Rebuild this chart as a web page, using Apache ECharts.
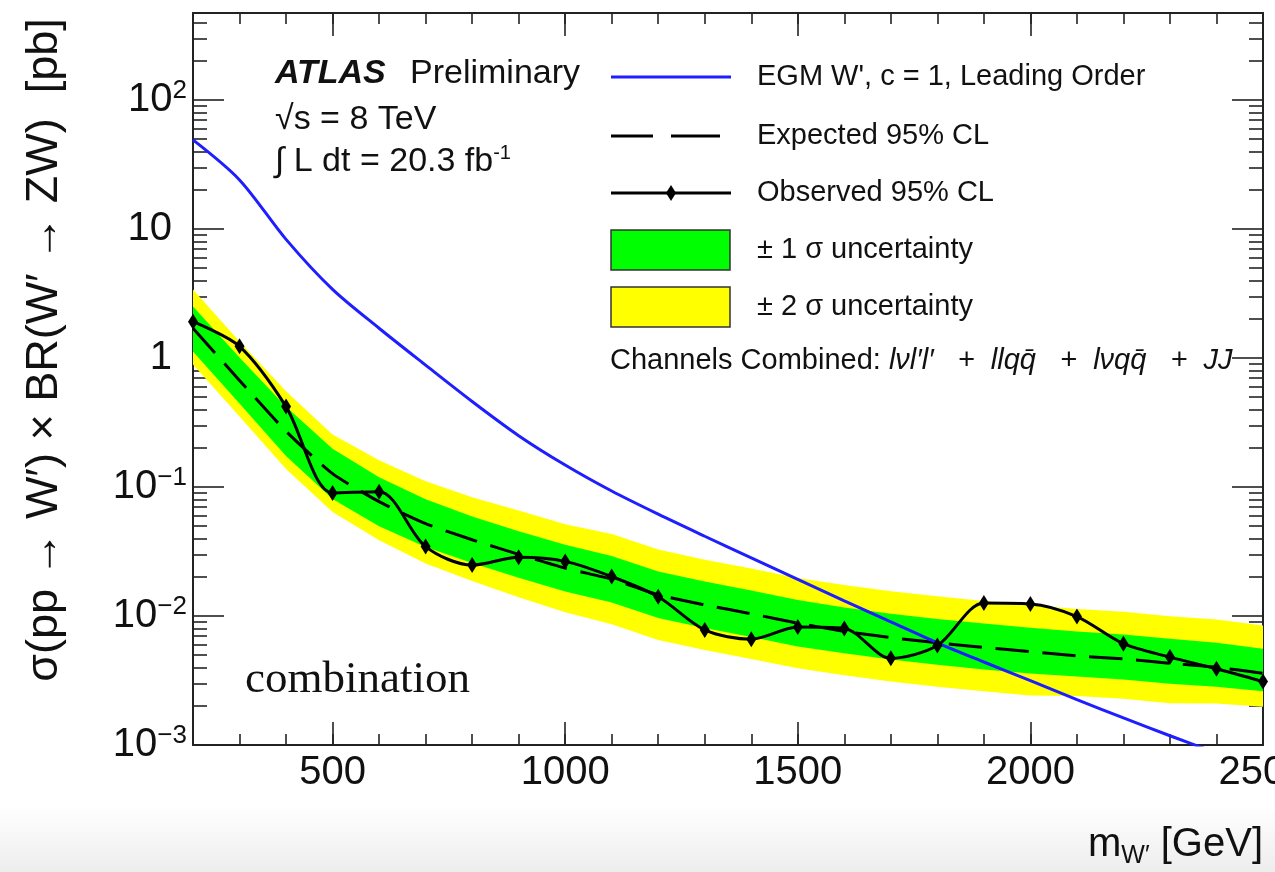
<!DOCTYPE html>
<html><head><meta charset="utf-8">
<script src="https://cdn.jsdelivr.net/npm/echarts@6/dist/echarts.min.js"></script>
<style>html,body{margin:0;padding:0;background:#fff}#c{width:1275px;height:872px}</style>
</head><body><div id="c"></div>
<script>
// ---- data ----
const masses   = [200,300,400,500,600,700,800,900,1000,1100,1200,1300,1400,1500,1600,1700,1800,1900,2000,2100,2200,2300,2400,2500];
const observed = [1.91,1.23,0.42,0.090,0.092,0.0345,0.0248,0.0285,0.0265,0.0202,0.0141,0.0078,0.0066,0.0082,0.0080,0.0047,0.0059,0.0126,0.0124,0.0099,0.0061,0.0048,0.0039,0.0031];
const expected = [1.70,0.67,0.27,0.127,0.077,0.052,0.039,0.030,0.0235,0.0193,0.0146,0.0122,0.0104,0.0088,0.0076,0.0068,0.0062,0.0057,0.0053,0.0049,0.00465,0.0043,0.0040,0.0036];
const plus1s   = [2.51,1.01,0.418,0.198,0.119,0.0805,0.0590,0.0454,0.0356,0.0292,0.0221,0.0185,0.01575,0.01332,0.01164,0.01041,0.00949,0.00873,0.00811,0.00759,0.0072,0.00666,0.0062,0.00558];
const minus1s  = [1.12,0.443,0.174,0.0807,0.0497,0.0343,0.0258,0.0198,0.0155,0.01275,0.00964,0.00806,0.00687,0.00581,0.00514,0.0046,0.00419,0.00385,0.00358,0.00339,0.00322,0.00298,0.00283,0.00261];
const plus2s   = [3.39,1.34,0.551,0.255,0.161,0.111,0.0834,0.0656,0.0514,0.0432,0.0327,0.0273,0.0233,0.0197,0.01741,0.01558,0.0142,0.01306,0.01214,0.01135,0.01077,0.00996,0.00938,0.00844];
const minus2s  = [0.89,0.352,0.138,0.0641,0.0386,0.0255,0.0187,0.0140,0.0107,0.00862,0.00652,0.00545,0.00464,0.00393,0.00347,0.00311,0.00283,0.00261,0.00242,0.0024,0.00228,0.00211,0.0021,0.00198];
const theory   = [49,24,8.3,3.4,1.7,0.88,0.46,0.25,0.148,0.093,0.0615,0.0415,0.0282,0.0192,0.0131,0.0090,0.0062,0.0044,0.00315,0.00225,0.00162,0.00118,0.00087,0.00064];

const xMajorTicks = [500,1000,1500,2000,2500];
const yMajorTicks = [0.001,0.01,0.1,1,10,100];
const yTickLabels = ['10{s|\u22123}','10{s|\u22122}','10{s|\u22121}','{p|1}','{p|10}','10{s|2}'];

// minor decade ticks (2..9 x 10^n) – axis decoration only
const yMinorTicks = [];
for (let e = -3; e <= 2; e++) for (let k = 2; k <= 9; k++) { const v = k * Math.pow(10, e); if (v < 472) yMinorTicks.push(+v.toPrecision(3)); }

const FONT = '"Liberation Sans", Arial, Helvetica, sans-serif';
const TXT = '#111';
const frame = {color:'#222', width:2};
const tickStyle = {color:'#222', width:1.6};

function pairs(ys){ return masses.map((m,i)=>[m, ys[i]]); }

function band(up, dn, color, z){
  return {
    type:'custom', xAxisIndex:0, yAxisIndex:0, z:z, silent:true,
    data:[[masses[0], expected[0]]],
    renderItem:(params, api)=>{
      const pts=[];
      for(let i=0;i<masses.length;i++) pts.push(api.coord([masses[i], up[i]]));
      for(let i=masses.length-1;i>=0;i--) pts.push(api.coord([masses[i], dn[i]]));
      return {type:'polygon', shape:{points:pts}, style:{fill:color, stroke:null}};
    }
  };
}

const xBase = {type:'value', min:200, max:2500, interval:100, splitLine:{show:false}};
const yBase = {type:'log', min:0.001, max:472, splitLine:{show:false}, minorTick:{show:false}};

const option = {
  animation:false,
  backgroundColor:'#fff',
  textStyle:{fontFamily:FONT},
  grid:{left:193, right:12, top:13, bottom:127, containLabel:false, outerBoundsMode:'none'},
  xAxis:[
    Object.assign({}, xBase, {position:'bottom',
      axisLine:{show:true, lineStyle:frame},
      axisTick:{show:true, inside:true, length:11, lineStyle:tickStyle},
      axisLabel:{show:true, customValues:xMajorTicks, fontSize:40, color:TXT, margin:8, fontFamily:FONT,
        formatter:(v)=>String(Math.round(v))}}),
    Object.assign({}, xBase, {position:'bottom',
      axisLine:{show:false},
      axisTick:{show:true, inside:true, length:23, customValues:xMajorTicks, lineStyle:tickStyle},
      axisLabel:{show:false}}),
    Object.assign({}, xBase, {position:'top',
      axisLine:{show:true, lineStyle:frame},
      axisTick:{show:true, inside:true, length:11, lineStyle:tickStyle},
      axisLabel:{show:false}}),
    Object.assign({}, xBase, {position:'top',
      axisLine:{show:false},
      axisTick:{show:true, inside:true, length:23, customValues:xMajorTicks, lineStyle:tickStyle},
      axisLabel:{show:false}})
  ],
  yAxis:[
    Object.assign({}, yBase, {position:'left',
      axisLine:{show:true, lineStyle:frame},
      axisTick:{show:true, inside:true, length:31, customValues:yMajorTicks, lineStyle:tickStyle},
      axisLabel:{show:true, customValues:yMajorTicks, margin:6, color:TXT, fontFamily:FONT,
        formatter:(v)=>{ for(let i=0;i<yMajorTicks.length;i++){ if(Math.abs(Math.log10(v)-Math.log10(yMajorTicks[i]))<1e-6) return yTickLabels[i]; } return ''; },
        rich:{
          s:{fontSize:26, verticalAlign:'top', color:TXT, fontFamily:FONT, lineHeight:44},
          p:{fontSize:40, color:TXT, fontFamily:FONT, padding:[0,15,0,0], lineHeight:44}
        },
        fontSize:40, lineHeight:44}}),
    Object.assign({}, yBase, {position:'left',
      axisLine:{show:false},
      axisTick:{show:true, inside:true, length:14, customValues:yMinorTicks, lineStyle:tickStyle},
      axisLabel:{show:false}}),
    Object.assign({}, yBase, {position:'right',
      axisLine:{show:true, lineStyle:frame},
      axisTick:{show:true, inside:true, length:31, customValues:yMajorTicks, lineStyle:tickStyle},
      axisLabel:{show:false}}),
    Object.assign({}, yBase, {position:'right',
      axisLine:{show:false},
      axisTick:{show:true, inside:true, length:14, customValues:yMinorTicks, lineStyle:tickStyle},
      axisLabel:{show:false}})
  ],
  series:[
    band(plus2s, minus2s, '#ffff00', 1),
    band(plus1s, minus1s, '#00ff00', 2),
    {type:'line', name:'Expected 95% CL', data:pairs(expected), xAxisIndex:0, yAxisIndex:0, z:3,
      showSymbol:false, symbol:'none', smooth:0.2, lineStyle:{color:'#000', width:3, type:[33,14]}},
    {type:'line', name:"EGM W'", data:pairs(theory), xAxisIndex:0, yAxisIndex:0, z:4,
      showSymbol:false, symbol:'none', smooth:0.3, lineStyle:{color:'#1e1eff', width:3}},
    {type:'line', name:'Observed 95% CL', data:pairs(observed), xAxisIndex:0, yAxisIndex:0, z:5,
      symbol:'diamond', symbolSize:[10,16], smooth:0.3,
      itemStyle:{color:'#000'}, lineStyle:{color:'#000', width:3}}
  ],
  graphic:[
    // bottom faint shading of the photographed slide
    {type:'rect', z:-10, shape:{x:0, y:805, width:1275, height:67},
      style:{fill:{type:'linear', x:0, y:0, x2:0, y2:1, colorStops:[{offset:0,color:'rgba(0,0,0,0)'},{offset:1,color:'rgba(0,0,0,0.07)'}]}}},
    // ATLAS label
    {type:'text', x:275, y:74, style:{text:'ATLAS', font:'italic bold 34px '+FONT, fill:TXT, verticalAlign:'middle'}},
    {type:'text', x:410, y:74, style:{text:'Preliminary', font:'34px '+FONT, fill:TXT, verticalAlign:'middle'}},
    {type:'text', x:275, y:120, style:{text:'\u221As = 8 TeV', font:'34px '+FONT, fill:TXT, verticalAlign:'middle'}},
    {type:'text', x:275, y:162, style:{text:'\u222B L dt = 20.3 fb{s|-1}', font:'34px '+FONT, fill:TXT, verticalAlign:'middle',
      rich:{s:{fontSize:20, verticalAlign:'top', fill:TXT, lineHeight:38, fontFamily:FONT}}}},
    // legend
    {type:'line', shape:{x1:611, y1:77, x2:731, y2:77}, style:{stroke:'#1e1eff', lineWidth:3}},
    {type:'text', x:757, y:77, style:{text:"EGM W', c = 1, Leading Order", font:'29px '+FONT, fill:TXT, verticalAlign:'middle'}},
    {type:'line', shape:{x1:611, y1:136, x2:653, y2:136}, style:{stroke:'#000', lineWidth:3}},
    {type:'line', shape:{x1:671, y1:136, x2:720, y2:136}, style:{stroke:'#000', lineWidth:3}},
    {type:'text', x:757, y:136, style:{text:'Expected 95% CL', font:'29px '+FONT, fill:TXT, verticalAlign:'middle'}},
    {type:'line', shape:{x1:611, y1:193, x2:731, y2:193}, style:{stroke:'#000', lineWidth:3}},
    {type:'polygon', shape:{points:[[671,185],[676,193],[671,201],[666,193]]}, style:{fill:'#000'}},
    {type:'text', x:757, y:193, style:{text:'Observed 95% CL', font:'29px '+FONT, fill:TXT, verticalAlign:'middle'}},
    {type:'rect', shape:{x:611, y:230, width:119, height:40}, style:{fill:'#00ff00', stroke:'#333', lineWidth:1.5}},
    {type:'text', x:757, y:250, style:{text:'\u00B1 1 \u03C3 uncertainty', font:'29px '+FONT, fill:TXT, verticalAlign:'middle'}},
    {type:'rect', shape:{x:611, y:287, width:119, height:40}, style:{fill:'#ffff00', stroke:'#333', lineWidth:1.5}},
    {type:'text', x:757, y:307, style:{text:'\u00B1 2 \u03C3 uncertainty', font:'29px '+FONT, fill:TXT, verticalAlign:'middle'}},
    {type:'text', x:610, y:361, style:{text:'Channels Combined: {i|l\u03BDl\u2032l\u2032   +  llqq\u0304   +  l\u03BDqq\u0304   +  JJ}', font:'29px '+FONT, fill:TXT, verticalAlign:'middle',
      rich:{i:{fontStyle:'italic', fontSize:29, fontFamily:FONT, fill:TXT}}}},
    // overlay word
    {type:'text', x:245, y:680, style:{text:'combination', font:'45px "Liberation Serif", "Times New Roman", serif', fill:'#111', verticalAlign:'middle'}},
    // axis titles
    {type:'text', x:45, y:350, rotation:Math.PI/2, style:{text:'\u03C3(pp \u2192 W\u2032) \u00D7 BR(W\u2032 \u2192 ZW)  [pb]', font:'45px '+FONT, fill:TXT, align:'center', verticalAlign:'middle'}},
    {type:'text', x:1263, y:845, style:{text:'m{sub|W\u2032} [GeV]', font:'40px '+FONT, fill:TXT, align:'right', verticalAlign:'middle',
      rich:{sub:{fontSize:25, verticalAlign:'bottom', fill:TXT, fontFamily:FONT, lineHeight:48}}}}
  ]
};

const chart = echarts.init(document.getElementById('c'), null, {renderer:'canvas'});
chart.setOption(option);
</script>
</body></html>
